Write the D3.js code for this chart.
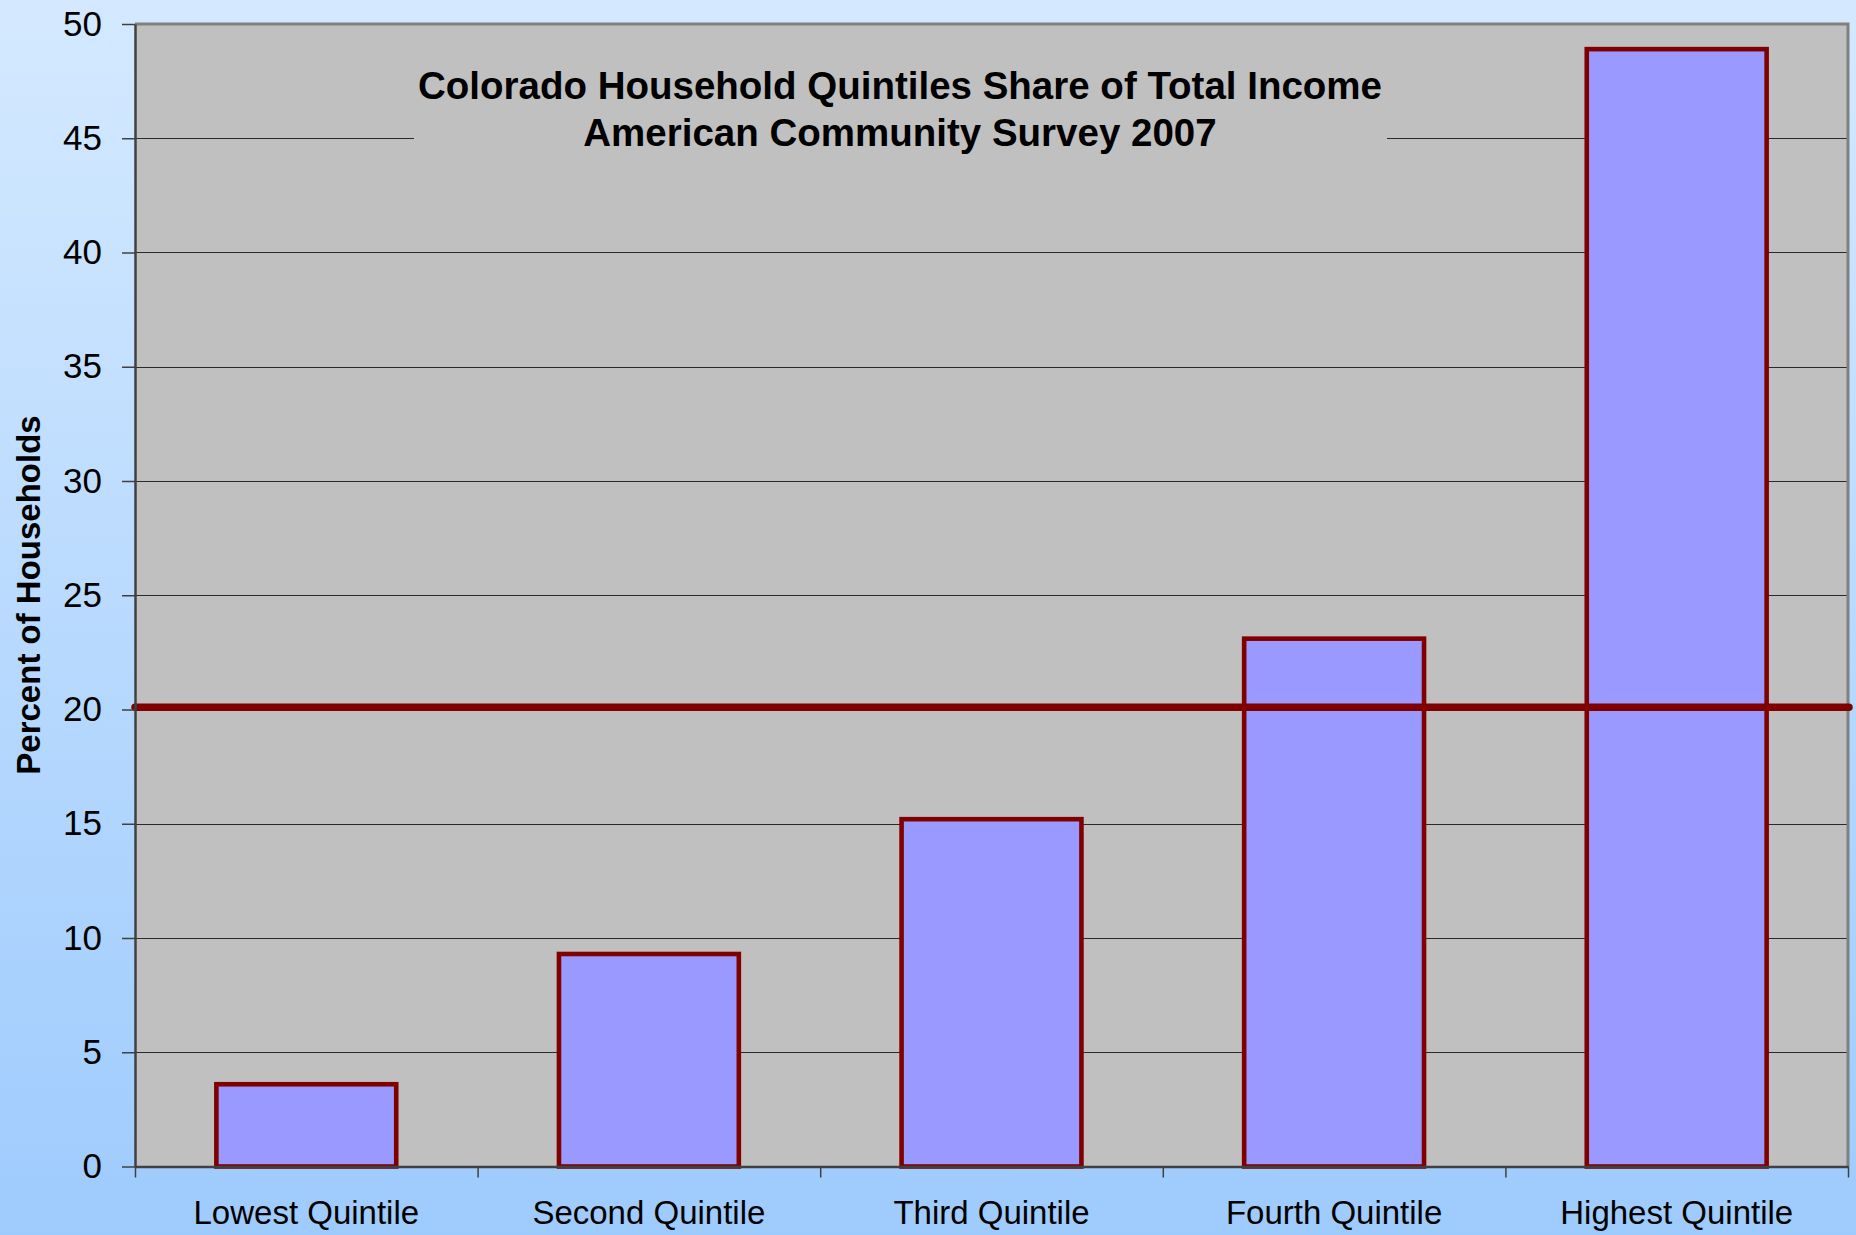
<!DOCTYPE html>
<html>
<head>
<meta charset="utf-8">
<script src="https://cdn.jsdelivr.net/npm/d3@7"></script>
<style>
  html, body { margin: 0; padding: 0; }
  body { width: 1856px; height: 1235px; overflow: hidden; }
  text { font-family: "Liberation Sans", Arial, sans-serif; }
</style>
</head>
<body>
<div id="chart"></div>
<script>
const categories = ["Lowest Quintile", "Second Quintile", "Third Quintile", "Fourth Quintile", "Highest Quintile"];
const shares = [3.6, 9.3, 15.2, 23.1, 48.9];
const equalShare = 20.1;
const yTicks = [0, 5, 10, 15, 20, 25, 30, 35, 40, 45, 50];
const titleLines = ["Colorado Household Quintiles Share of Total Income", "American Community Survey 2007"];
const yLabel = "Percent of Households";

const W = 1856, H = 1235;
const plot = {left: 135, right: 1848, top: 24, bottom: 1166.5};

const svg = d3.select('#chart').append('svg')
  .attr('width', W)
  .attr('height', H);

const defs = svg.append('defs');
const grad = defs.append('linearGradient')
  .attr('id', 'bg')
  .attr('x1', 0).attr('y1', 0).attr('x2', 0).attr('y2', 1);
grad.append('stop').attr('offset', '0%').attr('stop-color', '#d4e9ff');
grad.append('stop').attr('offset', '100%').attr('stop-color', '#9ecbfd');

svg.append('rect')
  .attr('width', W).attr('height', H)
  .attr('fill', 'url(#bg)');

const x = d3.scaleBand()
  .domain(categories)
  .range([plot.left, plot.right])
  .paddingInner(0.475)
  .paddingOuter(0.2375);

const xEdges = d3.scaleLinear()
  .domain([0, categories.length])
  .range([plot.left, plot.right]);

const y = d3.scaleLinear()
  .domain([0, 50])
  .range([plot.bottom, plot.top]);

// plot background
svg.append('rect')
  .attr('x', plot.left).attr('y', plot.top)
  .attr('width', plot.right - plot.left)
  .attr('height', plot.bottom - plot.top)
  .attr('fill', '#c0c0c0');

// gridlines
svg.append('g')
  .selectAll('line')
  .data(yTicks.filter(d => d > 0 && d < 50))
  .join('line')
    .attr('x1', plot.left).attr('x2', plot.right)
    .attr('y1', d => Math.round(y(d)) + 0.5)
    .attr('y2', d => Math.round(y(d)) + 0.5)
    .attr('stroke', '#2a2a2a')
    .attr('stroke-width', 1.2);

// title box masks the gridline behind it
svg.append('rect')
  .attr('x', 414).attr('y', 52)
  .attr('width', 973).attr('height', 106)
  .attr('fill', '#c0c0c0');

// plot border (top, right)
svg.append('path')
  .attr('d', `M${plot.left},${plot.top}H${plot.right}V${plot.bottom}`)
  .attr('fill', 'none')
  .attr('stroke', '#808080')
  .attr('stroke-width', 3);

// bars
svg.append('g')
  .selectAll('rect')
  .data(categories)
  .join('rect')
    .attr('x', d => x(d))
    .attr('y', (d, i) => y(shares[i]))
    .attr('width', x.bandwidth())
    .attr('height', (d, i) => y(0) - y(shares[i]))
    .attr('fill', '#9999ff')
    .attr('stroke', '#800000')
    .attr('stroke-width', 4.6);

// equal share line
svg.append('line')
  .attr('x1', plot.left)
  .attr('x2', plot.right + 1)
  .attr('y1', y(equalShare))
  .attr('y2', y(equalShare))
  .attr('stroke', '#800000')
  .attr('stroke-width', 7.5)
  .attr('stroke-linecap', 'round');

// y axis
const yAxis = svg.append('g')
  .attr('transform', `translate(${plot.left},0)`)
  .call(d3.axisLeft(y).tickValues(yTicks).tickSize(13).tickPadding(20).tickSizeOuter(0));
yAxis.select('.domain').attr('stroke', '#404040').attr('stroke-width', 2.5);
yAxis.selectAll('.tick line').attr('stroke', '#404040').attr('stroke-width', 1.5);
yAxis.selectAll('.tick text')
  .attr('fill', '#000')
  .attr('font-size', 35)
  .attr('font-family', '"Liberation Sans", Arial, sans-serif');

// x axis: ticks at category edges
const xAxis = svg.append('g')
  .attr('transform', `translate(0,${plot.bottom})`)
  .call(d3.axisBottom(xEdges).tickValues(d3.range(categories.length + 1)).tickSize(11).tickFormat('').tickSizeOuter(0));
xAxis.select('.domain').attr('stroke', '#404040').attr('stroke-width', 2.5);
xAxis.selectAll('.tick line').attr('stroke', '#404040').attr('stroke-width', 1.5);

// x labels
svg.append('g')
  .selectAll('text')
  .data(categories)
  .join('text')
    .attr('x', d => x(d) + x.bandwidth() / 2)
    .attr('y', 1224)
    .attr('text-anchor', 'middle')
    .attr('font-size', 33)
    .attr('fill', '#000')
    .text(d => d);

// y label
svg.append('text')
  .attr('transform', 'translate(40,595) rotate(-90)')
  .attr('text-anchor', 'middle')
  .attr('font-size', 33)
  .attr('font-weight', 'bold')
  .attr('fill', '#000')
  .text(yLabel);

// title
svg.append('g')
  .selectAll('text')
  .data(titleLines)
  .join('text')
    .attr('x', 900)
    .attr('y', (d, i) => 99 + i * 47)
    .attr('text-anchor', 'middle')
    .attr('font-size', 38.5)
    .attr('font-weight', 'bold')
    .attr('fill', '#000')
    .text(d => d);
</script>
</body>
</html>
